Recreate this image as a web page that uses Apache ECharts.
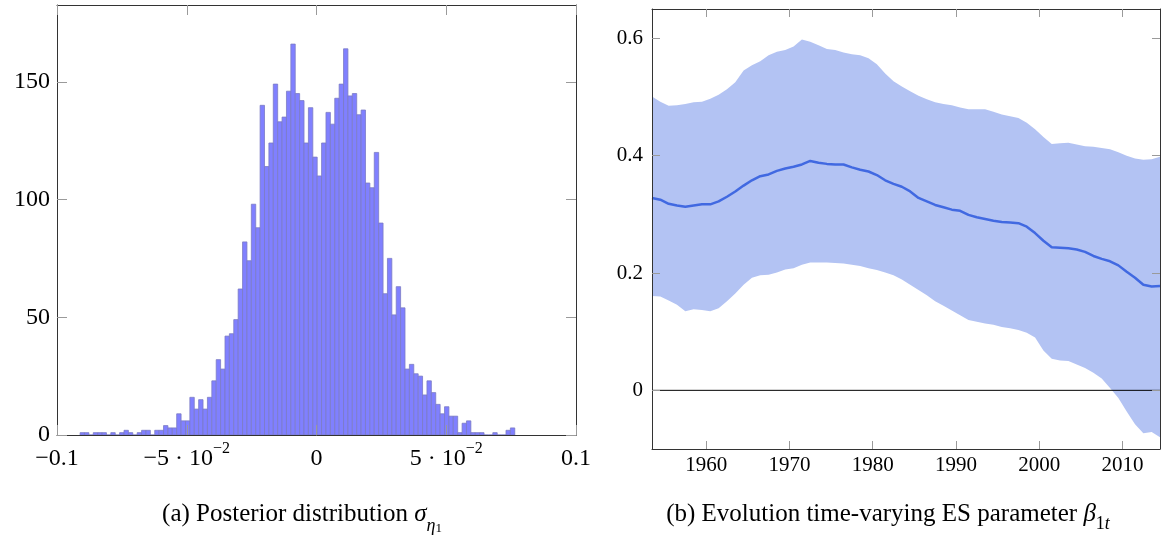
<!DOCTYPE html>
<html><head><meta charset="utf-8">
<script src="https://cdn.jsdelivr.net/npm/echarts@6/dist/echarts.min.js"></script>
<style>html,body{margin:0;padding:0;background:#fff}#c{width:1161px;height:539px}</style>
</head><body><div id="c"></div>
<script>
// ---------- (a) histogram data ----------
const histBinStart = -0.0911;
const histBinWidth = 0.001692;
const histCounts = [1,1,0,1,1,1,0,1,0,1, 2,1,0,1,2,2,0,2,2,4, 3,3,9,6,6,16,11,15,11,16,
  23,32,28,42,43,49,62,82,74,98, 88,140,114,124,149,133,135,146,166,145,
  142,124,139,118,110,124,137,132,143,149, 164,144,145,136,138,107,105,120,90,60,
  75,51,63,54,28,30,26,25,17,23, 18,13,9,12,8,8,1,5,6,1, 1,1,0,0,1,0,0,2,3];
const histXTicks = [-0.1, -0.05, 0, 0.05, 0.1];
const histXTickLabels = ['{m|\u22120.1}', '{m|\u22125 \u00b7 10}{s|\u22122}', '{m|0}', '{m|5 \u00b7 10}{s|\u22122}', '{m|0.1}'];
const histYTicks = [0, 50, 100, 150];

// ---------- (b) time-varying parameter data ----------
const years = [1953.5,1954.5,1955.5,1956.5,1957.5,1958.5,1959.5,1960.5,1961.5,1962.5,
  1963.5,1964.5,1965.5,1966.5,1967.5,1968.5,1969.5,1970.5,1971.5,1972.5,
  1973.5,1974.5,1975.5,1976.5,1977.5,1978.5,1979.5,1980.5,1981.5,1982.5,
  1983.5,1984.5,1985.5,1986.5,1987.5,1988.5,1989.5,1990.5,1991.5,1992.5,
  1993.5,1994.5,1995.5,1996.5,1997.5,1998.5,1999.5,2000.5,2001.5,2002.5,
  2003.5,2004.5,2005.5,2006.5,2007.5,2008.5,2009.5,2010.5,2011.5,2012.5,
  2013.5,2014.5];
const betaUpper = [0.501,0.492,0.485,0.486,0.488,0.491,0.492,0.497,0.504,0.513,
  0.525,0.545,0.554,0.561,0.571,0.577,0.580,0.586,0.598,0.594,
  0.588,0.582,0.580,0.576,0.573,0.571,0.566,0.556,0.540,0.527,
  0.518,0.510,0.502,0.496,0.491,0.488,0.486,0.482,0.479,0.479,
  0.479,0.475,0.470,0.467,0.464,0.456,0.445,0.432,0.420,0.421,
  0.422,0.419,0.416,0.415,0.413,0.411,0.406,0.400,0.395,0.393,
  0.394,0.398];
const betaMedian = [0.328,0.325,0.318,0.315,0.313,0.315,0.317,0.317,0.322,0.330,
  0.339,0.349,0.358,0.365,0.368,0.374,0.378,0.381,0.385,0.391,
  0.388,0.386,0.385,0.385,0.380,0.376,0.373,0.367,0.358,0.352,
  0.347,0.339,0.328,0.322,0.316,0.312,0.308,0.306,0.299,0.295,
  0.292,0.289,0.287,0.286,0.285,0.279,0.268,0.255,0.244,0.243,
  0.242,0.240,0.236,0.229,0.224,0.220,0.213,0.202,0.192,0.180,
  0.177,0.178];
const betaLower = [0.161,0.160,0.153,0.146,0.135,0.138,0.137,0.135,0.140,0.152,
  0.165,0.180,0.192,0.196,0.197,0.201,0.206,0.208,0.214,0.218,
  0.218,0.218,0.217,0.216,0.214,0.212,0.208,0.205,0.201,0.196,
  0.189,0.180,0.171,0.162,0.152,0.144,0.136,0.128,0.120,0.117,
  0.114,0.112,0.108,0.106,0.103,0.098,0.090,0.068,0.054,0.051,
  0.050,0.044,0.038,0.030,0.020,0.004,-0.013,-0.036,-0.058,-0.073,
  -0.071,-0.080];
const yearTicks = [1960, 1970, 1980, 1990, 2000, 2010];
const betaTicks = [0, 0.2, 0.4, 0.6];
const yearMin = 1953.5, yearMax = 2014.5;
const zeroLine = [[yearMin, 0], [yearMax, 0]];

// ---------- build ----------
const FONT = '"Liberation Serif", "DejaVu Serif", serif';
const FRAME = '#333333';
const TICK = '#9a9a9a';

const histData = histCounts.map((c, i) => [histBinStart + i * histBinWidth, histBinStart + (i + 1) * histBinWidth, c]);
const bandData = years.map((y, i) => [y, betaLower[i], betaUpper[i]]);
const medianData = years.map((y, i) => [y, betaMedian[i]]);

function frameAxis(extra) {
  return Object.assign({
    type: 'value', z: 5,
    axisLine: { show: true, onZero: false, lineStyle: { color: FRAME, width: 1 } },
    splitLine: { show: false },
  }, extra);
}

const capRich = (extra) => Object.assign({
  r: { fontFamily: FONT, fontSize: 25, fontWeight: 'normal', color: '#000', verticalAlign: 'top', lineHeight: 27 },
  i: { fontFamily: FONT, fontSize: 25, fontWeight: 'normal', fontStyle: 'italic', color: '#000', verticalAlign: 'top', lineHeight: 27 }
}, extra);

const chart = echarts.init(document.getElementById('c'), null, { renderer: 'canvas' });
chart.setOption({
  animation: false,
  backgroundColor: '#fff',
  title: [
    { text: '{r|(a) Posterior distribution }{i|\u03c3}{s|\u03b7}{s2|1}', left: 297, top: 497, textAlign: 'center',
      textStyle: { fontWeight: 'normal', rich: capRich({
        s: { fontFamily: FONT, fontSize: 18, fontWeight: 'normal', fontStyle: 'italic', color: '#000', verticalAlign: 'bottom', lineHeight: 31 },
        s2: { fontFamily: FONT, fontSize: 13, fontWeight: 'normal', color: '#000', verticalAlign: 'bottom', lineHeight: 33 }
      }) } },
    { text: '{r|(b) Evolution time-varying ES parameter }{i|\u03b2}{s|1}{si|t}', left: 883, top: 497, textAlign: 'center',
      textStyle: { fontWeight: 'normal', rich: capRich({
        s: { fontFamily: FONT, fontSize: 18, fontWeight: 'normal', color: '#000', verticalAlign: 'bottom', lineHeight: 31 },
        si: { fontFamily: FONT, fontSize: 18, fontWeight: 'normal', fontStyle: 'italic', color: '#000', verticalAlign: 'bottom', lineHeight: 31 }
      }) } }
  ],
  grid: [
    { left: 57, top: 5, width: 519, height: 430 },
    { left: 652, top: 9, width: 508, height: 440 }
  ],
  xAxis: [
    frameAxis({ gridIndex: 0, position: 'bottom', min: -0.1, max: 0.1, interval: 0.05,
      axisTick: { show: true, inside: true, length: 10, lineStyle: { color: TICK } },
      axisLabel: { show: true, margin: 6, color: '#000',
        formatter: v => { const k = histXTicks.findIndex(t => Math.abs(t - v) < 1e-9); return k >= 0 ? histXTickLabels[k] : ''; },
        rich: {
          m: { fontFamily: FONT, fontSize: 24, color: '#000', verticalAlign: 'bottom', lineHeight: 30 },
          s: { fontFamily: FONT, fontSize: 16, color: '#000', verticalAlign: 'top', lineHeight: 16 }
        } } }),
    frameAxis({ gridIndex: 0, position: 'top', min: -0.1, max: 0.1, interval: 0.05,
      axisTick: { show: true, inside: true, length: 10, lineStyle: { color: TICK } },
      axisLabel: { show: false } }),
    frameAxis({ gridIndex: 1, position: 'bottom', min: yearMin, max: yearMax,
      axisTick: { show: true, inside: true, length: 8, customValues: yearTicks, lineStyle: { color: TICK } },
      axisLabel: { show: true, margin: 6, customValues: yearTicks, formatter: v => String(v), fontFamily: FONT, fontSize: 21, color: '#000' } }),
    frameAxis({ gridIndex: 1, position: 'top', min: yearMin, max: yearMax,
      axisTick: { show: true, inside: true, length: 8, customValues: yearTicks, lineStyle: { color: TICK } },
      axisLabel: { show: false, customValues: yearTicks } })
  ],
  yAxis: [
    frameAxis({ gridIndex: 0, position: 'left', min: 0, max: 182.6,
      axisTick: { show: true, inside: true, length: 10, customValues: histYTicks, lineStyle: { color: TICK } },
      axisLabel: { show: true, margin: 7, customValues: histYTicks, fontFamily: FONT, fontSize: 24, color: '#000' } }),
    frameAxis({ gridIndex: 0, position: 'right', min: 0, max: 182.6,
      axisTick: { show: true, inside: true, length: 10, customValues: histYTicks, lineStyle: { color: TICK } },
      axisLabel: { show: false, customValues: histYTicks } }),
    frameAxis({ gridIndex: 1, position: 'left', min: -0.1, max: 0.65,
      axisTick: { show: true, inside: true, length: 8, customValues: betaTicks, lineStyle: { color: TICK } },
      axisLabel: { show: true, margin: 9, customValues: betaTicks, formatter: v => String(v), fontFamily: FONT, fontSize: 21, color: '#000' } }),
    frameAxis({ gridIndex: 1, position: 'right', min: -0.1, max: 0.65,
      axisTick: { show: true, inside: true, length: 8, customValues: betaTicks, lineStyle: { color: TICK } },
      axisLabel: { show: false, customValues: betaTicks } })
  ],
  series: [
    {
      type: 'custom', xAxisIndex: 0, yAxisIndex: 0, data: histData,
      encode: { x: [0, 1], y: 2 },
      renderItem: (params, api) => {
        const p0 = api.coord([api.value(0), api.value(2)]);
        const p1 = api.coord([api.value(1), 0]);
        return { type: 'rect',
          shape: { x: p0[0], y: p0[1], width: p1[0] - p0[0], height: p1[1] - p0[1] },
          style: { fill: '#8080ff', stroke: '#7b7bc4', lineWidth: 0.8 } };
      }
    },
    {
      type: 'custom', xAxisIndex: 2, yAxisIndex: 2, data: bandData, silent: true, z: 2,
      encode: { x: 0, y: [1, 2] },
      renderItem: (params, api) => {
        if (params.dataIndex !== 0) return null;
        const pts = [];
        for (let i = 0; i < bandData.length; i++) pts.push(api.coord([bandData[i][0], bandData[i][2]]));
        for (let i = bandData.length - 1; i >= 0; i--) pts.push(api.coord([bandData[i][0], bandData[i][1]]));
        return { type: 'polygon', shape: { points: pts }, style: { fill: '#b3c3f3' } };
      }
    },
    {
      type: 'line', xAxisIndex: 2, yAxisIndex: 2, data: zeroLine, z: 3, silent: true,
      symbol: 'none', lineStyle: { color: '#000', width: 1 }
    },
    {
      type: 'line', xAxisIndex: 2, yAxisIndex: 2, data: medianData, z: 4,
      symbol: 'none', lineStyle: { color: '#4169e1', width: 2.5 }
    }
  ]
});
</script>
</body></html>
